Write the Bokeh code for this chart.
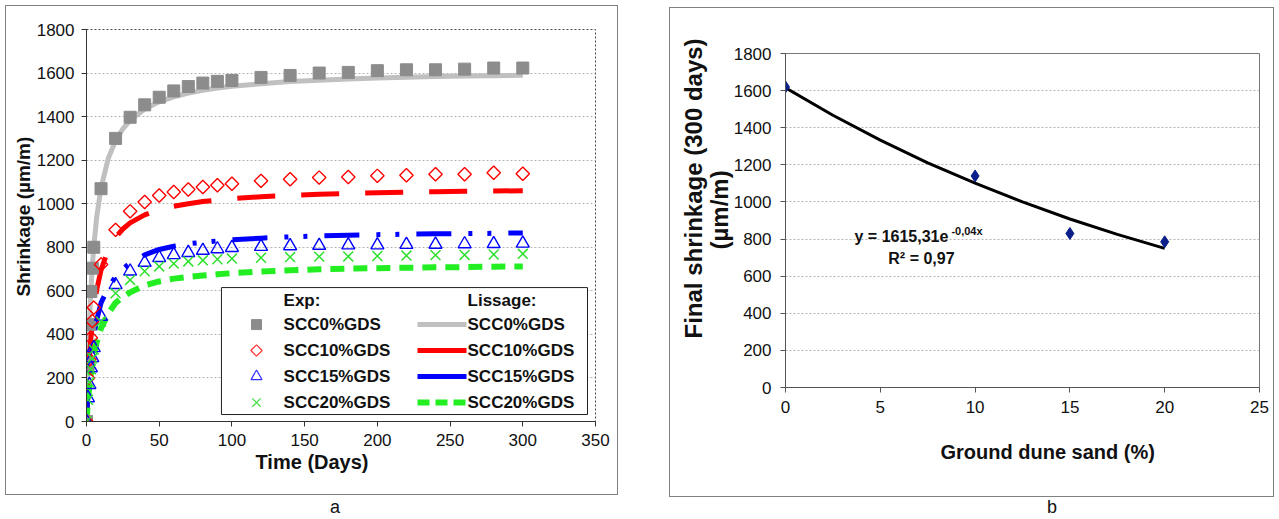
import numpy as np
from bokeh.plotting import figure
from bokeh.models import Range1d, FixedTicker, Label, Div, Title
from bokeh.layouts import row, column
from bokeh.core.properties import value
from bokeh.embed import file_html
from bokeh.resources import INLINE

FONT = "Liberation Sans"

# ---------------- data (panel a) ----------------
days_exp = [0, 1, 2, 3, 4, 5, 10, 20, 30, 40, 50, 60, 70, 80, 90, 100,
            120, 140, 160, 180, 200, 220, 240, 260, 280, 300]
exp_scc0 = [0, 262, 445, 597, 704, 800, 1069, 1300, 1397, 1454, 1489, 1518, 1538, 1554, 1562, 1566,
            1580, 1589, 1600, 1603, 1611, 1615, 1615, 1618, 1623, 1623]
exp_scc10 = [0, 200, 285, 385, 461, 523, 721, 880, 965, 1008, 1038, 1054, 1065, 1077, 1085, 1092,
             1105, 1112, 1120, 1123, 1128, 1131, 1135, 1135, 1142, 1138]
exp_scc15 = [0, 108, 169, 246, 292, 338, 482, 628, 690, 730, 752, 765, 775, 785, 792, 798,
             803, 806, 808, 810, 810, 812, 813, 815, 816, 818]
exp_scc20 = [0, 100, 180, 240, 290, 330, 459, 589, 650, 690, 712, 725, 735, 740, 745, 748,
             752, 755, 757, 758, 760, 762, 764, 765, 767, 770]

days_fit = [0, 1, 2, 3, 4, 5, 7, 10, 15, 20, 25, 30, 40, 50, 60, 70, 80, 90, 100,
            120, 140, 160, 180, 200, 220, 240, 260, 280, 300]
fit_scc0 = [0, 266, 457, 601, 713, 803, 938, 1073, 1209, 1290, 1344, 1383, 1435, 1468, 1491, 1508,
            1521, 1531, 1539, 1551, 1561, 1567, 1573, 1577, 1581, 1584, 1586, 1588, 1590]
fit_scc10 = [0, 166, 288, 381, 454, 514, 604, 696, 790, 846, 884, 912, 949, 972, 988, 1000,
             1010, 1017, 1023, 1032, 1038, 1043, 1047, 1050, 1053, 1055, 1057, 1058, 1060]
fit_scc15 = [0, 125, 215, 290, 345, 395, 465, 545, 615, 665, 700, 728, 765, 790, 805, 816,
             823, 829, 834, 842, 848, 852, 855, 858, 860, 862, 863, 864, 866]
fit_scc20 = [0, 91, 162, 219, 265, 304, 365, 429, 497, 545, 572, 593, 625, 643, 656, 664,
             670, 676, 681, 689, 694, 699, 702, 704, 706, 708, 709, 711, 712]

series_names = ["SCC0%GDS", "SCC10%GDS", "SCC15%GDS", "SCC20%GDS"]

# ---------------- data (panel b) ----------------
gds = [0, 10, 15, 20]
final_shrinkage = [1620, 1140, 830, 785]
trend_x = [0, 2.5, 5, 7.5, 10, 12.5, 15, 17.5, 20]
trend_y = [1615, 1467, 1333, 1211, 1101, 1000, 908, 825, 750]

y_ticks = [0, 200, 400, 600, 800, 1000, 1200, 1400, 1600, 1800]
xa_ticks = [0, 50, 100, 150, 200, 250, 300, 350]
xb_ticks = [0, 5, 10, 15, 20, 25]


def style_axes(p, xticks, axis_color):
    for ax in (p.xaxis[0], p.yaxis[0]):
        ax.major_tick_in = 0
        ax.major_tick_out = 5
        ax.minor_tick_line_color = None
        ax.axis_line_color = axis_color
        ax.major_tick_line_color = axis_color
        ax.major_label_text_font = FONT
        ax.major_label_text_font_size = "17px"
        ax.major_label_text_color = "#111111"
    p.xaxis[0].ticker = FixedTicker(ticks=xticks)
    p.yaxis[0].ticker = FixedTicker(ticks=y_ticks)
    p.xaxis[0].major_label_standoff = 7
    p.yaxis[0].major_label_standoff = 7
    p.xgrid.visible = False
    p.ygrid.grid_line_color = "#b5b5b5"
    p.ygrid.grid_line_dash = "2 2"
    p.ygrid.ticker = FixedTicker(ticks=y_ticks[1:-1])


def side_title(p, text, place, size, offset, standoff):
    p.add_layout(Title(text=text, align="left", offset=offset, standoff=standoff,
                       text_font=FONT, text_font_size=size, text_font_style="bold",
                       text_color="#111111"), place)


def label(p, x, y, text, size="16px", align="center"):
    p.add_layout(Label(x=x, y=y, text=text, text_font=FONT, text_font_size=size,
                       text_font_style="bold", text_align=align, text_baseline="middle",
                       text_color="#111111"))


# ---------------- panel a ----------------
pa = figure(width=613, height=490, x_range=Range1d(0, 350), y_range=Range1d(0, 1800),
            output_backend="svg", toolbar_location=None, margin=(5, 0, 0, 5),
            min_border_left=80, min_border_right=24, min_border_top=23, min_border_bottom=75,
            styles={"border": "1px solid #808080"})
style_axes(pa, xa_ticks, "#333333")
pa.outline_line_color = "#444444"
pa.outline_line_dash = "2 2"

pa.line(days_fit, fit_scc0, line_color="#c0c0c0", line_width=5)
pa.line(days_fit, fit_scc10, line_color="#ff0000", line_width=5, line_dash="38 26")
pa.line(days_fit, fit_scc15, line_color="#0000ff", line_width=5, line_dash="35 17 4 15 4 17")
pa.line(days_fit, fit_scc20, line_color="#22ee22", line_width=6, line_dash="14 9")

pa.scatter(days_exp, exp_scc0, marker="square", size=12, fill_color="#8c8c8c", line_color="#8c8c8c")
pa.scatter(days_exp, exp_scc10, marker="square", angle=np.pi / 4, size=9.5, fill_alpha=0,
           line_color="#ff0000", line_width=1.4)
pa.scatter(days_exp, exp_scc15, marker="triangle", size=13, fill_alpha=0,
           line_color="#0000ff", line_width=1.4)
pa.scatter(days_exp, exp_scc20, marker="x", size=14, line_color="#2ee02e", line_width=1.5)

# legend (manual, two columns)
pa.quad(left=[92.8], right=[344.5], bottom=[32], top=[615], fill_color="white",
        line_color="#222222", line_width=1)
row_y = [445, 326, 207, 87]
mk_x, txt1_x, ln_x0, ln_x1, txt2_x = 116.9, 135.5, 227.6, 261.3, 262.0
pa.scatter([mk_x], [row_y[0]], marker="square", size=10, fill_color="#8c8c8c", line_color="#8c8c8c")
pa.scatter([mk_x], [row_y[1]], marker="square", angle=np.pi / 4, size=8, fill_alpha=0,
           line_color="#ff3333", line_width=1.2)
pa.scatter([mk_x], [row_y[2]], marker="triangle", size=11, fill_alpha=0,
           line_color="#3333ff", line_width=1.2)
pa.scatter([mk_x], [row_y[3]], marker="x", size=12, line_color="#44e044", line_width=1.2)
pa.line([ln_x0, ln_x1], [row_y[0]] * 2, line_color="#c0c0c0", line_width=5)
pa.line([ln_x0, ln_x1], [row_y[1]] * 2, line_color="#ff0000", line_width=5)
pa.line([ln_x0, ln_x1], [row_y[2]] * 2, line_color="#0000ff", line_width=5)
pa.line([ln_x0, ln_x1], [row_y[3]] * 2, line_color="#22ee22", line_width=6, line_dash="12 6")
pa.text(x=[txt1_x] * 4 + [txt2_x] * 4 + [txt1_x, txt2_x], y=row_y + row_y + [556, 556],
        text=series_names + series_names + ["Exp:", "Lissage:"],
        text_font=value(FONT), text_font_size="17px", text_font_style="bold",
        text_baseline="middle", text_align="left", text_color="#111111")

side_title(pa, "Time (Days)", "below", "20px", 169, 0)
side_title(pa, "Shrinkage (µm/m)", "left", "19px", 125, 0)

# ---------------- panel b ----------------
pb = figure(width=605, height=490, x_range=Range1d(0, 25), y_range=Range1d(0, 1800),
            output_backend="svg", toolbar_location=None, margin=(7, 0, 0, 51),
            min_border_left=115, min_border_right=16, min_border_top=45, min_border_bottom=111,
            styles={"border": "1px solid #808080"})
style_axes(pb, xb_ticks, "#555555")
pb.outline_line_color = "#777777"
pb.xaxis[0].major_label_standoff = 8
pb.yaxis[0].major_label_standoff = 9

pb.line(trend_x, trend_y, line_color="#000000", line_width=3)
pb.scatter(gds, final_shrinkage, marker="diamond", size=12, fill_color="#0b1f8a", line_color="#0b1f8a")

label(pb, 3.64, 813, "y = 1615,31e", size="16px", align="left")
label(pb, 8.75, 846, "-0,04x", size="11px", align="left")
label(pb, 7.17, 695, "R² = 0,97", size="16px")

side_title(pb, "Ground dune sand (%)", "below", "20px", 155, 46)
side_title(pb, "(µm/m)", "left", "24px", 138, -4)
side_title(pb, "Final shrinkage (300 days)", "left", "24px", 49, -3)

div_style = {"font-size": "18px", "font-family": FONT, "line-height": "15px", "color": "#111"}
div_a = Div(text="a", width=20, height=15, margin=(5, 0, 0, 330), styles=div_style)
div_b = Div(text="b", width=20, height=15, margin=(3, 0, 0, 429), styles=div_style)

layout = row(column(pa, div_a), column(pb, div_b))

open("out.html", "w").write(file_html(layout, INLINE))
